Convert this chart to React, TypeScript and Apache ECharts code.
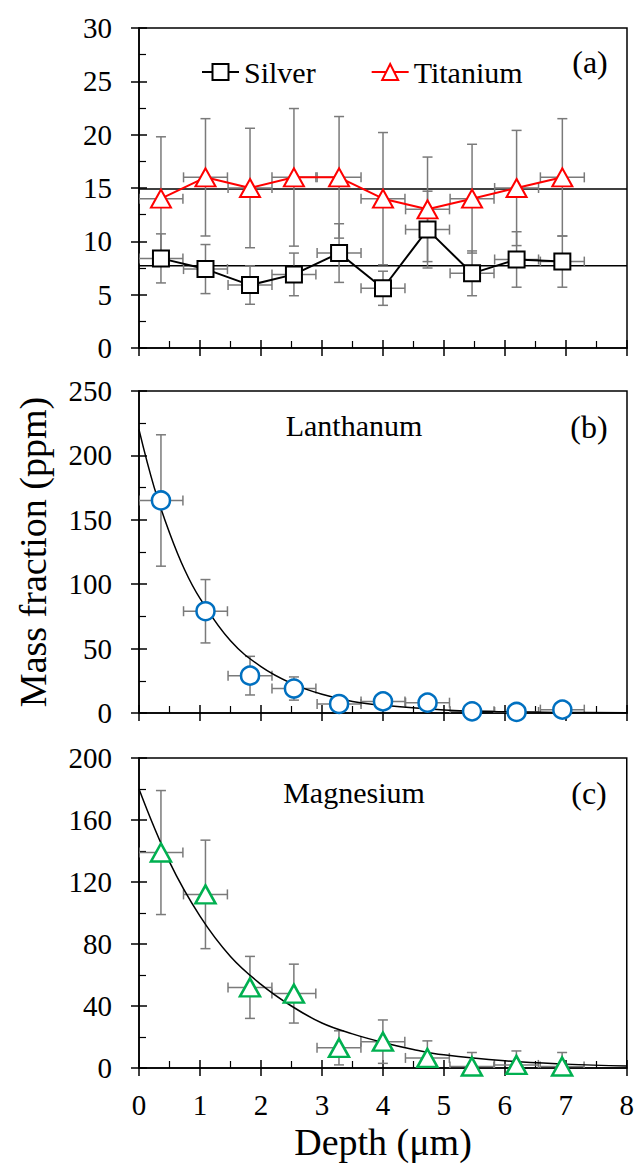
import React, { useEffect, useRef } from 'react';
import * as echarts from 'echarts';

// ---- data ----
const depth = [0.36, 1.09, 1.82, 2.54, 3.28, 4.0, 4.73, 5.46, 6.19, 6.94];
const depthErr = [0.36, 0.36, 0.36, 0.36, 0.36, 0.36, 0.36, 0.36, 0.36, 0.36];

const silver = [8.4, 7.4, 5.9, 6.9, 8.9, 5.6, 11.1, 7.0, 8.3, 8.1];
const silverErr = [2.3, 2.3, 1.8, 2.0, 2.75, 1.6, 3.6, 2.1, 2.6, 2.4];
const titanium = [14, 16, 15, 16, 16, 14, 13, 14, 15, 16];
const titaniumErr = [5.8, 5.5, 5.6, 6.45, 5.7, 6.2, 4.9, 5.1, 5.4, 5.5];
const silverMean = 7.7;
const titaniumMean = 14.9;

const lanthanum = [165, 79, 29, 19, 7, 9, 8, 1.3, 0.8, 2.6];
const lanthanumErr = [51, 24.6, 15, 9, 4, 3, 3, 2, 2, 2];
const lanFitX = [0, 0.25, 0.5, 0.75, 1, 1.5, 2, 2.5, 3, 3.5, 4, 5, 6, 7, 8];
const lanFitY = [220, 175, 140, 111, 89, 56, 36, 23, 14.5, 9, 6, 2.4, 1, 0.4, 0.2];

const magnesium = [139, 112, 52, 48, 13, 17, 6.5, 1, 2, 1];
const magnesiumErr = [40, 35, 20, 19, 11, 14, 11, 9, 9, 9];
const magFitX = [0, 0.5, 1, 1.5, 2, 2.5, 3, 3.5, 4, 4.5, 5, 6, 7, 8];
const magFitY = [180, 133, 98, 72, 54, 40, 29, 22, 16.5, 12, 8.5, 4.6, 2.5, 1.3];

const FONT = 'Times New Roman';
const LABEL_FONT = 'serif';

function axisPair(dim: 'x' | 'y', gridIndex: number, min: number, max: number, interval: number, labels: boolean) {
  const position = dim === 'x' ? 'bottom' : 'left';
  const tickLine = { color: '#000', width: 1.5 };
  const inner = {
    type: 'value', gridIndex, min, max, interval, position,
    axisLine: { show: true, onZero: false, lineStyle: { color: '#000', width: 1.5 } },
    axisTick: { show: true, inside: true, length: 8, lineStyle: tickLine },
    minorTick: { show: true, splitNumber: 2, length: 7, lineStyle: { color: '#000', width: 1.2 } },
    axisLabel: { show: false },
    splitLine: { show: false },
    minorSplitLine: { show: false },
  };
  const outer = {
    type: 'value', gridIndex, min, max, interval, position,
    axisLine: { show: false, onZero: false },
    axisTick: { show: true, inside: false, length: 8, lineStyle: tickLine },
    axisLabel: {
      show: labels, margin: dim === 'x' ? 22 : 27,
      fontFamily: LABEL_FONT, fontSize: 29, color: '#000',
    },
    splitLine: { show: false },
  };
  return [inner, outer];
}

function errorBars(params: any, api: any) {
  const x = api.value(0), y = api.value(1), dx = api.value(2), dy = api.value(3);
  const c = api.coord([x, y]);
  const left = api.coord([x - dx, y])[0];
  const right = api.coord([x + dx, y])[0];
  const top = api.coord([x, y + dy])[1];
  const bottom = api.coord([x, y - dy])[1];
  const cap = 5;
  const style = { stroke: '#7a7a7a', lineWidth: 1.5 };
  const ln = (x1: number, y1: number, x2: number, y2: number) => ({ type: 'line', shape: { x1, y1, x2, y2 }, style });
  return {
    type: 'group',
    children: [
      ln(left, c[1], right, c[1]),
      ln(left, c[1] - cap, left, c[1] + cap),
      ln(right, c[1] - cap, right, c[1] + cap),
      ln(c[0], top, c[0], bottom),
      ln(c[0] - cap, top, c[0] + cap, top),
      ln(c[0] - cap, bottom, c[0] + cap, bottom),
    ],
  };
}

function errSeries(idx: number, ys: number[], errs: number[]) {
  return {
    type: 'custom', xAxisIndex: idx, yAxisIndex: idx, z: 2, clip: true, silent: true,
    renderItem: errorBars,
    encode: { x: 0, y: 1 },
    data: depth.map((x, i) => [x, ys[i], depthErr[i], errs[i]]),
  };
}

function label(text: string, x: number, y: number, size: number, rotation = 0) {
  return {
    type: 'text', x, y, rotation,
    style: { text, fontFamily: FONT, fontSize: size, fill: '#000', align: 'center', verticalAlign: 'middle' },
  };
}

export default function App() {
  const ref = useRef<HTMLDivElement>(null);
  useEffect(() => {
    if (!ref.current) return;
    const chart = echarts.init(ref.current, null, { renderer: 'svg' });
    const grids = [
      { left: 139, right: 10, top: 28, height: 320 },
      { left: 139, right: 10, top: 391, height: 322 },
      { left: 139, right: 10, top: 758, height: 310 },
    ].map((g) => ({ ...g, show: true, borderColor: '#000', borderWidth: 1.5 }));

    const xAxis = [
      ...axisPair('x', 0, 0, 8, 1, false),
      ...axisPair('x', 1, 0, 8, 1, false),
      ...axisPair('x', 2, 0, 8, 1, true),
    ];
    const yAxis = [
      ...axisPair('y', 0, 0, 30, 5, true),
      ...axisPair('y', 1, 0, 250, 50, true),
      ...axisPair('y', 2, 0, 200, 40, true),
    ];

    const option: any = {
      animation: false,
      backgroundColor: '#fff',
      textStyle: { fontFamily: LABEL_FONT },
      grid: grids,
      xAxis,
      yAxis,
      legend: {
        data: ['Silver', 'Titanium'],
        left: 196, top: 52,
        itemWidth: 37, itemHeight: 20, itemGap: 55,
        textStyle: { fontFamily: LABEL_FONT, fontSize: 30, color: '#000' },
      },
      series: [
        {
          name: 'mean-ti', type: 'line', xAxisIndex: 0, yAxisIndex: 0, z: 1, silent: true,
          symbol: 'none', lineStyle: { color: '#000', width: 1.5 },
          data: [[0, titaniumMean], [8, titaniumMean]],
        },
        {
          name: 'mean-ag', type: 'line', xAxisIndex: 0, yAxisIndex: 0, z: 1, silent: true,
          symbol: 'none', lineStyle: { color: '#000', width: 1.5 },
          data: [[0, silverMean], [8, silverMean]],
        },
        errSeries(0, titanium, titaniumErr),
        errSeries(0, silver, silverErr),
        {
          name: 'Silver', type: 'line', xAxisIndex: 0, yAxisIndex: 0, z: 3,
          symbol: 'rect', symbolSize: 16,
          itemStyle: { color: '#fff', borderColor: '#000', borderWidth: 2 },
          lineStyle: { color: '#000', width: 2 },
          data: depth.map((x, i) => [x, silver[i]]),
        },
        {
          name: 'Titanium', type: 'line', xAxisIndex: 0, yAxisIndex: 0, z: 3,
          symbol: 'triangle', symbolSize: [20, 18],
          itemStyle: { color: '#fff', borderColor: '#ff0000', borderWidth: 2 },
          lineStyle: { color: '#ff0000', width: 2 },
          data: depth.map((x, i) => [x, titanium[i]]),
        },
        errSeries(2, lanthanum, lanthanumErr),
        {
          name: 'lan-fit', type: 'line', xAxisIndex: 2, yAxisIndex: 2, z: 2, silent: true,
          symbol: 'none', smooth: 0.4, lineStyle: { color: '#000', width: 1.5 },
          data: lanFitX.map((x, i) => [x, lanFitY[i]]),
        },
        {
          name: 'Lanthanum', type: 'scatter', xAxisIndex: 2, yAxisIndex: 2, z: 3,
          symbol: 'circle', symbolSize: 18,
          itemStyle: { color: '#fff', borderColor: '#0070c0', borderWidth: 2.5, opacity: 1 },
          data: depth.map((x, i) => [x, lanthanum[i]]),
        },
        errSeries(4, magnesium, magnesiumErr),
        {
          name: 'mag-fit', type: 'line', xAxisIndex: 4, yAxisIndex: 4, z: 2, silent: true,
          symbol: 'none', smooth: 0.4, lineStyle: { color: '#000', width: 1.5 },
          data: magFitX.map((x, i) => [x, magFitY[i]]),
        },
        {
          name: 'Magnesium', type: 'scatter', xAxisIndex: 4, yAxisIndex: 4, z: 3,
          symbol: 'triangle', symbolSize: [20, 18],
          itemStyle: { color: '#fff', borderColor: '#00b050', borderWidth: 2.5, opacity: 1 },
          data: depth.map((x, i) => [x, magnesium[i]]),
        },
      ],
      graphic: [
        label('(a)', 590, 62, 32),
        label('Lanthanum', 354, 425, 30),
        label('(b)', 589, 427, 32),
        label('Magnesium', 354, 792, 30),
        label('(c)', 589, 793, 32),
        label('Depth (μm)', 383, 1142, 38),
        label('Mass fraction (ppm)', 33, 552, 38, Math.PI / 2),
      ],
    };
    chart.setOption(option);
    return () => chart.dispose();
  }, []);
  return <div ref={ref} style={{ position: 'absolute', left: 0, top: 0, width: 637, height: 1172 }} />;
}
